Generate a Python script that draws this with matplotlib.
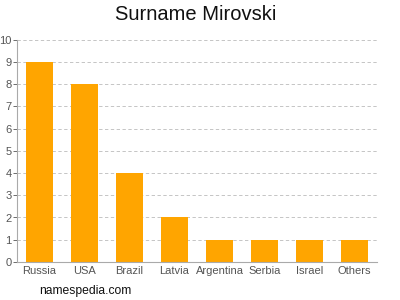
import matplotlib
matplotlib.use('Agg')
from matplotlib import pyplot as plt

countries = ['Russia', 'USA', 'Brazil', 'Latvia', 'Argentina', 'Serbia', 'Israel', 'Others']
counts = [9, 8, 4, 2, 1, 1, 1, 1]
yticks = list(range(0, 11))

plt.rcParams['font.family'] = ['Liberation Sans', 'DejaVu Sans']

fig = plt.figure(figsize=(4, 3), dpi=100)
ax = fig.add_axes([0.0425, 0.127, 0.9, 0.74])

x = range(len(countries))
ax.bar(x, counts, width=0.62, color='#FFA500', zorder=2)

ax.set_xlim(-0.5, len(countries) - 0.5)
ax.set_ylim(0, 10)
ax.set_yticks(yticks)
ax.set_xticks(list(x))
ax.set_xticklabels(countries)
ax.tick_params(axis='both', labelsize=8, colors='#555555', length=3, width=0.6)
ax.tick_params(axis='x', length=0, pad=3)
ax.tick_params(axis='y', pad=1)

ax.grid(axis='y', linestyle=(0, (4, 3)), color='#bbbbbb', linewidth=0.6, zorder=0)
for s in ['top', 'right']:
    ax.spines[s].set_visible(False)
for s in ['left', 'bottom']:
    ax.spines[s].set_color('#aaaaaa')
    ax.spines[s].set_linewidth(0.8)

fig.text(0.49, 0.952, 'Surname Mirovski', ha='center', va='center', fontsize=14.5, color='#111111')
fig.text(0.097, 0.03, 'namespedia.com', ha='left', va='center', fontsize=8.7, color='#111111')

fig.savefig('out.png', dpi=100)
